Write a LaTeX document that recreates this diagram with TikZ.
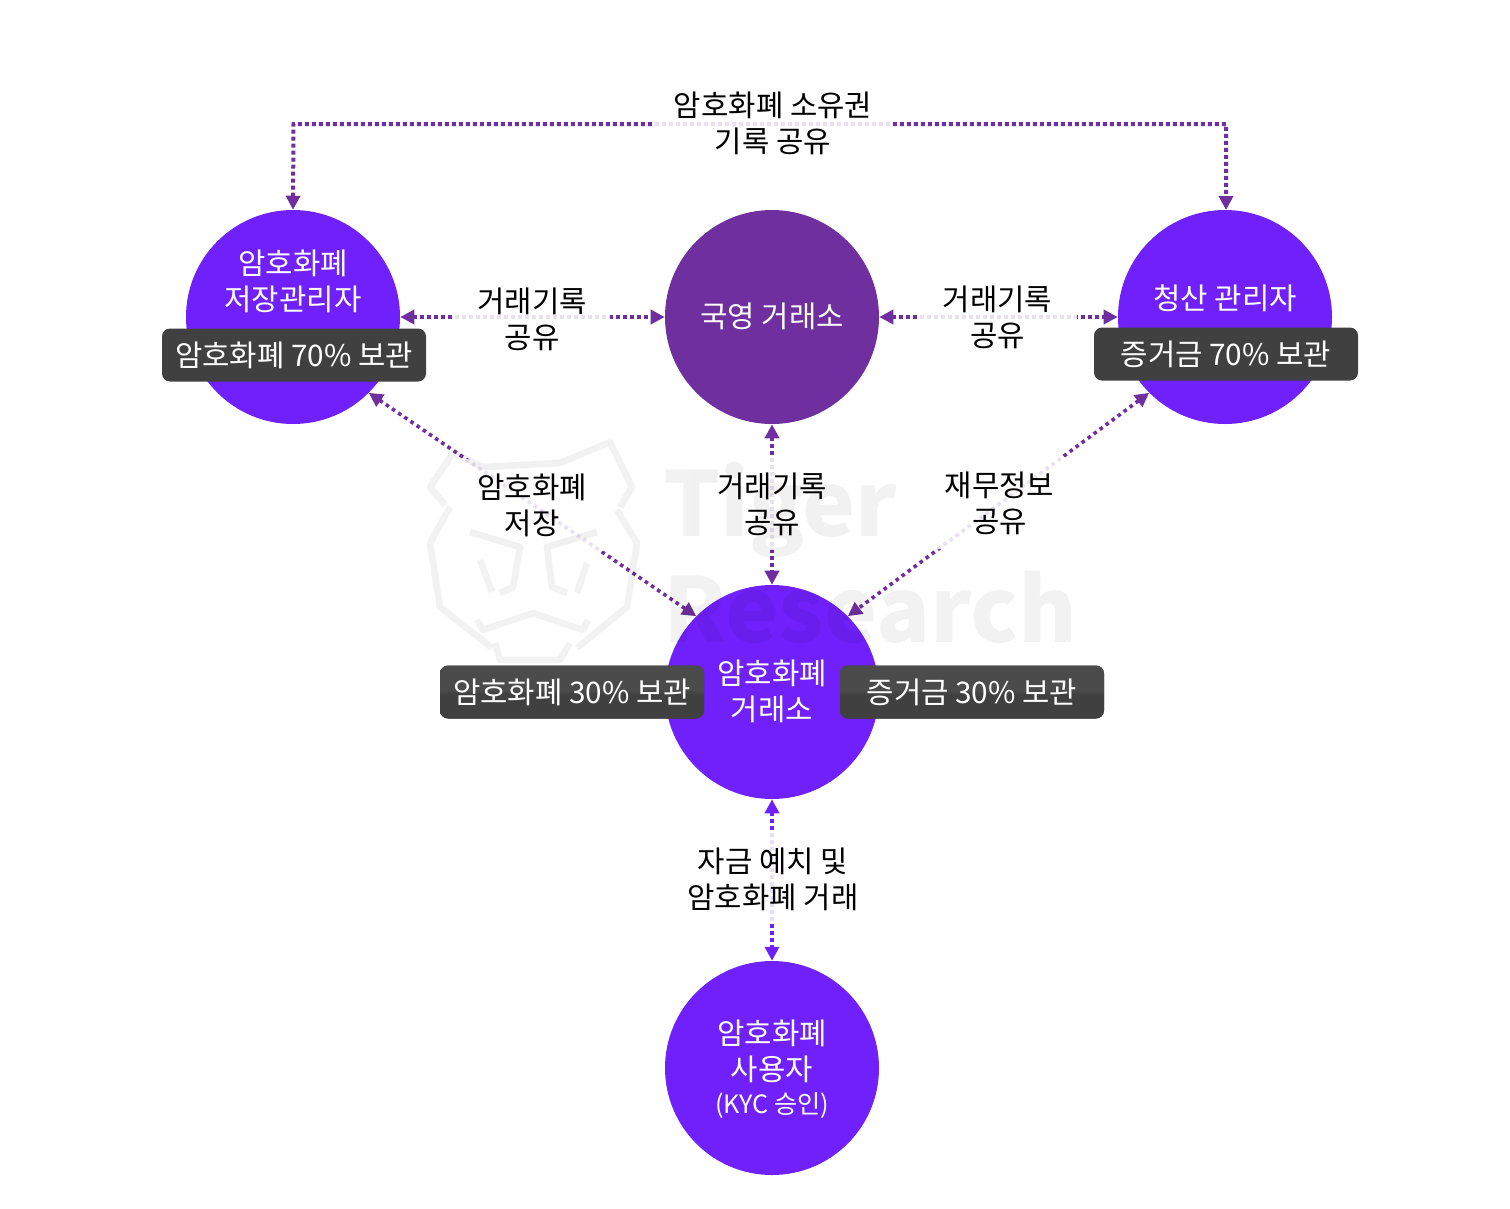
\documentclass[tikz,border=0pt]{standalone}
\usepackage{fontspec}
\setmainfont{Noto Sans CJK KR}
\usetikzlibrary{arrows.meta}
\definecolor{bright}{HTML}{7020FA}
\definecolor{deep}{HTML}{6F2F9E}
\definecolor{boxgray}{HTML}{404040}
\definecolor{glosstop}{HTML}{4B4B4B}
\pgfdeclareverticalshading{glossy}{100bp}{color(0bp)=(boxgray); color(48bp)=(boxgray); color(52bp)=(glosstop); color(100bp)=(glosstop)}
\newcommand{\bodyfont}{\fontsize{22.3}{27}\selectfont}
\tikzset{
  x=0.75pt,y=-0.75pt,
  actor/.style={circle,minimum size=160.5pt,inner sep=0pt,fill=bright},
  whitetext/.style={text=white,align=center,inner sep=0pt,font=\bodyfont},
  edgelabel/.style={align=center,font=\bodyfont,text=black,inner sep=0pt},
  labelbg/.style={fill=white,fill opacity=.85,draw=none,inner sep=0pt,minimum height=69pt},
  holdbox/.style={rounded corners=6pt,minimum width=198pt,minimum height=39.75pt,inner sep=0pt,fill=boxgray,text=white,font=\bodyfont},
  glossbox/.style={holdbox,shading=glossy},
  link/.style={line width=3pt,dash pattern=on 3pt off 2.25pt,{Triangle[length=10.5pt,width=10.5pt]}-{Triangle[length=10.5pt,width=10.5pt]},draw=deep},
  diaglink/.style={link,line width=2.7pt,dash pattern=on 2.7pt off 2.9pt},
  wm/.style={font=\fontsize{67}{67}\selectfont\bfseries,text=black,text opacity=.05,inner sep=0pt,anchor=west},
  wmline/.style={draw=black,draw opacity=.05,line width=5pt,line join=round}
}
\begin{document}
\begin{tikzpicture}
\useasboundingbox (0,0) rectangle (1510,1208);
% circles
\node[actor] (store) at (293,317) {};
\node[actor,fill=deep] (state) at (772,317) {};
\node[actor] (clear) at (1225,317) {};
\node[actor] (exch) at (772,692) {};
\node[actor] (user) at (772,1068) {};
% connectors
\coordinate (topL) at (293.5,124);
\coordinate (topR) at (1226,124);
\coordinate (clearTop) at (1226,210);
\draw[link] (store.north) -- (topL) -- (topR) -- (clearTop);
\draw[link] (store.east) -- (state.west);
\draw[link] (state.east) -- (clear.west);
\draw[link] (state.south) -- (exch.north);
\draw[diaglink] (store.-45) -- (exch.135);
\draw[diaglink] (clear.-135) -- (exch.45);
\draw[link,draw=bright] (exch.south) -- (user.north);
% label backings
\node[labelbg,minimum width=180pt] (bgT) at (772,123) {};
\node[labelbg,minimum width=118.5pt] (bgL) at (531,318) {};
\node[labelbg,minimum width=120pt] (bgR) at (997,316) {};
\node[labelbg,minimum width=118.5pt] (bgML) at (531,505) {};
\node[labelbg,minimum width=120pt] (bgM) at (771,504) {};
\node[labelbg,minimum width=120pt] (bgMR) at (999,503) {};
\node[labelbg,minimum width=170pt] (bgB) at (772,878) {};
% labels
\node[edgelabel] (lT) at (773,123.5) {암호화폐 소유권\\기록 공유};
\node[edgelabel] (lL) at (532,319) {거래기록\\공유};
\node[edgelabel] (lR) at (997.5,317) {거래기록\\공유};
\node[edgelabel] (lML) at (532,505) {암호화폐\\저장};
\node[edgelabel] (lM) at (772,504) {거래기록\\공유};
\node[edgelabel] (lMR) at (999.5,503.5) {재무정보\\공유};
\node[edgelabel] (lB) at (773,879) {자금 예치 및\\암호화폐 거래};
% watermark
\node[wm] (wmA) at (663,510) {Tiger};
\node[wm] (wmB) at (663,607) {Research};
\draw[wmline]
  (445,505) -- (430,487) -- (453,453) -- (483,467) -- (560,463) -- (610,442) -- (632,487) -- (620,507)
  (450,507) -- (430,543) -- (440,607) -- (492,648)
  (617,510) -- (637,543) -- (627,607) -- (577,648)
  (495,643) -- (500,660) -- (560,660) -- (570,643)
  (470,532) -- (520,547) -- (513,587) -- (500,593)
  (597,532) -- (547,547) -- (552,587) -- (567,593)
  (477,620) -- (483,630) -- (533,613) -- (583,630) -- (588,620)
  (480,560) -- (492,592)
  (587,563) -- (577,593);
% actor texts
\node[whitetext] (tStore) at (293,281) {암호화폐\\저장관리자};
\node[whitetext] (tState) at (772,316) {국영 거래소};
\node[whitetext] (tClear) at (1225,298.5) {청산 관리자};
\node[whitetext] (tExch) at (772,691.5) {암호화폐\\거래소};
\node[whitetext] (tUser) at (772,1069) {암호화폐\\사용자\\[-2pt]{\fontsize{18.9}{24}\selectfont (KYC 승인)}};
% holdings
\node[holdbox] (bStore) at (294,355) {암호화폐 70\% 보관};
\node[holdbox] (bClear) at (1226,354) {증거금 70\% 보관};
\node[glossbox] (bExL) at (572,692) {암호화폐 30\% 보관};
\node[glossbox] (bExR) at (972,692) {증거금 30\% 보관};
\end{tikzpicture}
\end{document}
